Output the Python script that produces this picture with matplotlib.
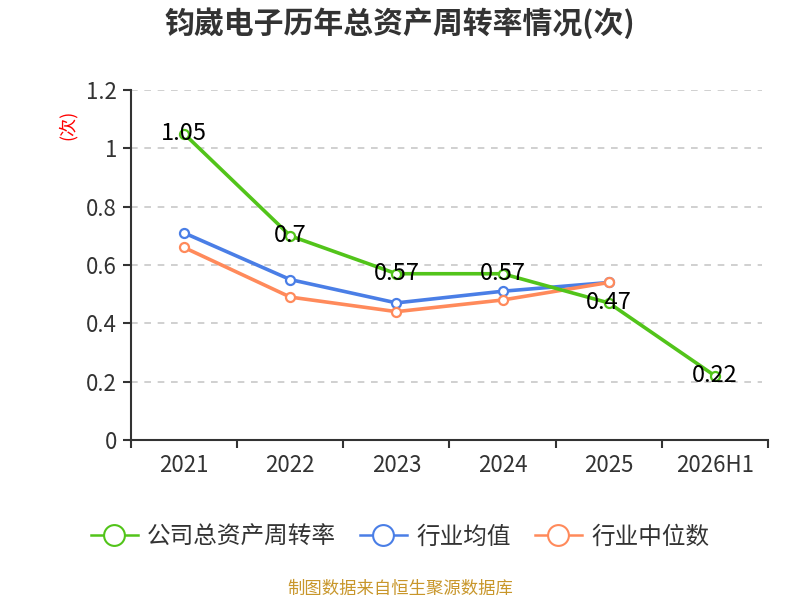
import matplotlib
matplotlib.use("Agg")
import matplotlib.pyplot as plt
from matplotlib.lines import Line2D

plt.rcParams['font.family'] = ['Noto Sans CJK SC', 'DejaVu Sans']

categories = ["2021", "2022", "2023", "2024", "2025", "2026H1"]
company = [1.05, 0.7, 0.57, 0.57, 0.47, 0.22]
ind_mean = [0.71, 0.55, 0.47, 0.51, 0.54]
ind_median = [0.66, 0.49, 0.44, 0.48, 0.54]
yticks = [0, 0.2, 0.4, 0.6, 0.8, 1.0, 1.2]
ytick_labels = ["0", "0.2", "0.4", "0.6", "0.8", "1", "1.2"]
series_names = ["公司总资产周转率", "行业均值", "行业中位数"]

c_green = "#52C41A"
c_blue = "#4A7EE6"
c_orange = "#FF8A5B"

fig = plt.figure(figsize=(8, 6), dpi=100)
ax = fig.add_axes([0.16375, 0.2667, 0.79625, 0.5833])

x = list(range(len(categories)))
ax.set_xlim(-0.5, len(categories) - 0.5)
ax.set_ylim(0, 1.2)

for yv in yticks[1:]:
    ax.axhline(yv, xmin=0, xmax=0.99, color="#c8c8c8", lw=1.2, ls=(0, (4, 4)), zorder=1)

kw = dict(lw=2.6, marker="o", markersize=6.5, markerfacecolor="white", markeredgewidth=1.6, zorder=3)
ax.plot(x[:len(ind_mean)], ind_mean, color=c_blue, markeredgecolor=c_blue, **kw)
ax.plot(x[:len(ind_median)], ind_median, color=c_orange, markeredgecolor=c_orange, **kw)
ax.plot(x, company, color=c_green, markeredgecolor=c_green, **kw)

for xi, v in zip(x, company):
    ax.text(xi, v, f"{v:g}", ha="center", va="center", fontsize=17, color="black", zorder=5)

ax.set_yticks(yticks)
ax.set_yticklabels(ytick_labels)
ax.set_xticks(x)
ax.set_xticklabels(categories)
ax.set_xticks([i - 0.5 for i in range(len(categories) + 1)], minor=True)
ax.tick_params(axis="x", which="major", length=0, pad=10, labelsize=16, colors="#333333")
ax.tick_params(axis="x", which="minor", length=6, width=1.5, color="#333333")
ax.tick_params(axis="y", length=6, width=1.5, color="#333333", labelsize=16, labelcolor="#333333", pad=4)

for s in ["top", "right"]:
    ax.spines[s].set_visible(False)
for s in ["left", "bottom"]:
    ax.spines[s].set_color("#333333")
    ax.spines[s].set_linewidth(1.5)

ax.set_ylabel("(次)", color="red", fontsize=13, rotation=90, labelpad=0)
ax.yaxis.set_label_coords(-0.085, 0.9)

fig.text(0.5, 0.962, "钧崴电子历年总资产周转率情况(次)", ha="center", va="center",
         fontsize=21.5, fontweight="bold", color="#333333")

handles = [Line2D([0], [0], color=c, lw=1.8, marker="o", markersize=15, markerfacecolor="white",
                  markeredgecolor=c, markeredgewidth=1.5) for c in (c_green, c_blue, c_orange)]
fig.legend(handles, series_names, loc="center", bbox_to_anchor=(0.5, 0.105), ncol=3, frameon=False,
           fontsize=17, handlelength=2.0, columnspacing=1.0, handletextpad=0.4, labelcolor="#333333")

fig.text(0.5, 0.018, "制图数据来自恒生聚源数据库", ha="center", va="center", fontsize=12.5, color="#C8962A")

fig.savefig("out.png", dpi=100)
